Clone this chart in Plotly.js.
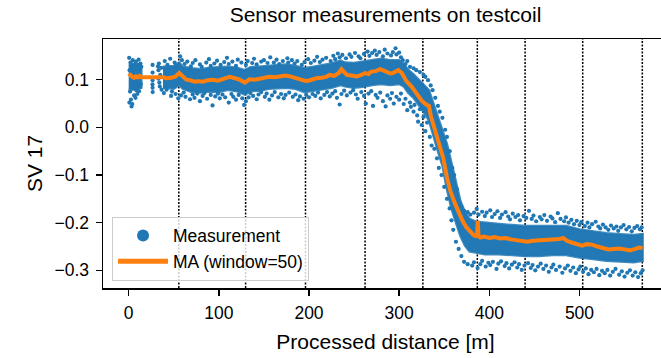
<!DOCTYPE html>
<html>
<head>
<meta charset="utf-8">
<script src="https://cdn.plot.ly/plotly-3.0.1.min.js"></script>
<style>
html,body{margin:0;padding:0;overflow:hidden;background:#fff;}
#chart{width:672px;height:358px;}
</style>
</head>
<body>
<div id="chart"></div>
<script>
// ---- Data ----
// Segment boundaries (processed distance, m)
const boundaries = [55.6, 129.7, 196.1, 262.2, 326.3, 386.7, 439.7, 503.6, 569.7];

// Moving average (window=50)
const maX = [0,2,4,6,8,10,12,14,38,42,47,52,56,60,64,68,73,78,82,88,93,99,104,108,112,118,123,129,134,140,145,151,156,162,168,174,179,185,190,197,203,208,214,219,223,228,233,236,239,242,247,253,258,262,266,269,274,279,283,286,290,293,296,299,303,308,314,319,325,330,333,335,338,341,345,349,353,357,362,366,370,374,378,382,385,386.5,387.2,388,390,394,400,406,412,418,424,430,436,442,448,454,460,466,472,478,482,486,492,498,503,508,514,520,526,532,538,544,550,556,562,566,570];
const maY = [0.107,0.110,0.106,0.104,0.107,0.105,0.108,0.105,0.105,0.103,0.104,0.107,0.114,0.107,0.100,0.099,0.096,0.097,0.096,0.099,0.100,0.098,0.101,0.104,0.106,0.103,0.100,0.094,0.101,0.100,0.102,0.104,0.106,0.105,0.108,0.109,0.107,0.104,0.100,0.097,0.100,0.103,0.104,0.106,0.110,0.108,0.114,0.122,0.116,0.110,0.109,0.107,0.110,0.114,0.112,0.117,0.118,0.122,0.119,0.116,0.113,0.114,0.118,0.120,0.114,0.097,0.085,0.072,0.056,0.048,0.045,0.025,0.005,-0.018,-0.040,-0.065,-0.105,-0.135,-0.160,-0.180,-0.195,-0.208,-0.218,-0.225,-0.228,-0.226,-0.196,-0.228,-0.231,-0.229,-0.232,-0.230,-0.233,-0.232,-0.235,-0.236,-0.237,-0.240,-0.238,-0.237,-0.238,-0.236,-0.236,-0.234,-0.232,-0.238,-0.242,-0.245,-0.248,-0.245,-0.246,-0.250,-0.253,-0.256,-0.255,-0.254,-0.256,-0.258,-0.255,-0.252,-0.253];

// Dense core of the measurement cloud (upper / lower envelope)
const coreAX = [0, 4, 8, 14];
const coreAUp = [0.131, 0.133, 0.132, 0.129];
const coreALo = [0.081, 0.079, 0.081, 0.083];
const coreBX = [38,50,56,60,70,80,90,100,110,120,129,135,145,155,165,175,185,195,205,215,225,235,240,250,260,270,280,290,300,305,310,316,322,328,333,338,343,348,353,358,363,368,373,378,385,395,410,425,440,455,470,485,500,515,530,545,560,570];
const coreBUp = [0.127,0.129,0.136,0.127,0.124,0.122,0.125,0.126,0.127,0.125,0.120,0.126,0.127,0.129,0.131,0.132,0.129,0.124,0.127,0.130,0.134,0.140,0.136,0.135,0.138,0.141,0.144,0.141,0.141,0.133,0.121,0.111,0.100,0.088,0.078,0.050,0.020,-0.010,-0.035,-0.075,-0.115,-0.155,-0.178,-0.192,-0.198,-0.200,-0.202,-0.205,-0.207,-0.207,-0.207,-0.207,-0.214,-0.218,-0.222,-0.224,-0.226,-0.224];
const coreBLo = [0.083,0.081,0.089,0.081,0.074,0.073,0.075,0.074,0.079,0.076,0.069,0.076,0.077,0.081,0.082,0.083,0.081,0.074,0.076,0.080,0.083,0.089,0.086,0.083,0.085,0.089,0.091,0.089,0.091,0.086,0.073,0.062,0.045,0.030,0.015,-0.020,-0.050,-0.080,-0.130,-0.170,-0.200,-0.228,-0.248,-0.260,-0.263,-0.266,-0.266,-0.268,-0.270,-0.270,-0.268,-0.268,-0.273,-0.276,-0.280,-0.281,-0.283,-0.280];

// Individual scattered measurements around the core, [distance, value]
const measStart = [[0.5,0.146],[1,0.120],[1.5,0.075],[2,0.136],[2.5,0.058],[3,0.090],[3.5,0.128],[4,0.049],[4.5,0.141],[5,0.083],[5.5,0.118],[6,0.067],[6.5,0.132],[7,0.095],[7.5,0.062],[8,0.138],[8.5,0.078],[9,0.125],[9.5,0.070],[10,0.131],[10.5,0.087],[11,0.142],[11.5,0.076],[12,0.120],[12.5,0.085],[13,0.134],[13.5,0.091],[14,0.127],[0.8,0.052],[3.2,0.044],
[26.5,0.131],[26.5,0.115],[26.5,0.099],[26.5,0.083],[26.6,0.074],[26.4,0.090],[32.5,0.128],[33,0.120],[33.5,0.134],[34,0.094],[34.5,0.086],[33,0.102],[35,0.110],[36,0.125],[36.5,0.079]];
const measUpperLeft = [[40,0.139],[43,0.131],[46,0.144],[51,0.136],[53,0.129],[57,0.149],[59,0.141],[62,0.133],[65,0.138],[69,0.128],[71,0.135],[74,0.141],[79,0.132],[81,0.127],[86,0.136],[89,0.143],[91,0.129],[95,0.134],[98,0.140],[102,0.131],[106,0.137],[109,0.146],[111,0.133],[115,0.138],[119,0.129],[121,0.142],[125,0.136],[130,0.131],[132,0.139],[137,0.135],[139,0.144],[142,0.132],[147,0.138],[150,0.141],[154,0.135],[157,0.147],[161,0.136],[164,0.142],[167,0.133],[171,0.139],[176,0.145],[177,0.136],[181,0.141],[184,0.134],[187,0.139],[192,0.131],[195,0.137],[199,0.143],[202,0.135],[206,0.140],[209,0.148],[212,0.137],[215,0.142],[219,0.146],[224,0.139],[227,0.150],[229,0.143],[232,0.155],[234,0.147],[237,0.152],[241,0.145],[245,0.153],[247,0.148],[251,0.156],[255,0.149],[257,0.145],[261,0.154],[265,0.159],[267,0.150],[270,0.156],[273,0.161],[275,0.152],[278,0.158],[282,0.149],[284,0.163],[287,0.155],[291,0.151],[293,0.158],[296,0.166],[297,0.153],[300,0.157],[302,0.147],[304,0.141],[307,0.133],[309,0.139],[312,0.127],[316,0.124],[319,0.120],[323,0.116],[327,0.110],[329,0.106],[332,0.099],[335,0.088],[337,0.078],[340,0.062],[343,0.045],[345,0.033],[348,0.020],[351,-0.005],[353,-0.020],[356,-0.050],[359,-0.085],[361,-0.100],[364,-0.130],[367,-0.160],[369,-0.168],[372,-0.175],[376,-0.178],[379,-0.183],[383,-0.179]];
const measLowerLeft = [[39,0.072],[42,0.079],[47,0.066],[48,0.075],[52,0.070],[55,0.061],[58,0.067],[61,0.073],[63,0.064],[68,0.059],[71,0.069],[73,0.062],[76,0.071],[79,0.055],[82,0.066],[84,0.072],[87,0.060],[91,0.068],[93,0.046],[96,0.065],[99,0.071],[101,0.061],[104,0.069],[107,0.063],[111,0.052],[114,0.070],[116,0.064],[119,0.058],[122,0.068],[126,0.061],[128,0.047],[130,0.055],[133,0.063],[135,0.072],[138,0.066],[142,0.059],[144,0.069],[147,0.074],[151,0.064],[153,0.071],[156,0.058],[159,0.067],[162,0.074],[166,0.063],[169,0.070],[172,0.061],[174,0.068],[178,0.073],[182,0.064],[185,0.069],[188,0.057],[190,0.065],[194,0.060],[197,0.068],[200,0.063],[204,0.070],[207,0.066],[210,0.073],[213,0.061],[217,0.068],[220,0.074],[223,0.065],[226,0.071],[229,0.076],[231,0.062],[234,0.048],[236,0.070],[239,0.077],[242,0.067],[246,0.073],[249,0.078],[252,0.069],[254,0.060],[258,0.074],[261,0.066],[263,0.050],[266,0.071],[269,0.076],[271,0.045],[274,0.068],[276,0.062],[279,0.073],[282,0.055],[285,0.044],[287,0.067],[290,0.060],[292,0.072],[294,0.050],[297,0.064],[300,0.058],[302,0.071],[305,0.049],[307,0.060],[309,0.036],[312,0.052],[313,0.043],[316,0.033],[317,0.047],[320,0.025],[321,0.012],[323,0.038],[325,0.005],[327,0.022],[329,-0.008],[331,0.010],[334,-0.020],[336,-0.038],[339,-0.045],[342,-0.065],[344,-0.085],[347,-0.100],[350,-0.125],[353,-0.150],[356,-0.170],[358,-0.195],[360,-0.215],[363,-0.240],[366,-0.255],[369,-0.270],[372,-0.282],[376,-0.287]];
const measUpperRight = [[386,-0.171],[388,-0.183],[392,-0.177],[395,-0.186],[397,-0.179],[401,-0.174],[403,-0.188],[406,-0.182],[409,-0.176],[412,-0.190],[414,-0.183],[418,-0.178],[421,-0.187],[423,-0.193],[426,-0.181],[429,-0.188],[432,-0.184],[434,-0.195],[438,-0.186],[441,-0.190],[444,-0.175],[447,-0.192],[449,-0.185],[452,-0.197],[456,-0.188],[458,-0.193],[461,-0.184],[464,-0.196],[468,-0.187],[470,-0.191],[473,-0.199],[476,-0.180],[479,-0.192],[483,-0.197],[485,-0.189],[488,-0.200],[491,-0.194],[494,-0.203],[497,-0.196],[500,-0.205],[502,-0.199],[506,-0.207],[509,-0.200],[511,-0.210],[514,-0.203],[518,-0.198],[521,-0.208],[523,-0.212],[526,-0.204],[529,-0.210],[532,-0.215],[535,-0.206],[538,-0.212],[541,-0.208],[543,-0.217],[546,-0.210],[549,-0.205],[552,-0.214],[555,-0.209],[558,-0.218],[561,-0.211],[564,-0.207],[567,-0.214],[569,-0.210]];
const measLowerRight = [[381,-0.290],[383,-0.283],[387,-0.295],[390,-0.287],[392,-0.280],[396,-0.292],[399,-0.284],[401,-0.289],[404,-0.282],[408,-0.297],[410,-0.286],[413,-0.281],[417,-0.291],[419,-0.285],[422,-0.296],[425,-0.288],[428,-0.283],[431,-0.294],[433,-0.287],[436,-0.299],[439,-0.290],[443,-0.285],[446,-0.295],[448,-0.289],[451,-0.300],[454,-0.292],[457,-0.286],[460,-0.297],[463,-0.290],[466,-0.303],[469,-0.294],[471,-0.288],[474,-0.299],[478,-0.292],[481,-0.305],[484,-0.296],[487,-0.290],[490,-0.301],[493,-0.294],[496,-0.306],[499,-0.298],[501,-0.292],[504,-0.303],[507,-0.296],[510,-0.308],[513,-0.299],[516,-0.304],[519,-0.297],[522,-0.310],[525,-0.301],[528,-0.306],[531,-0.299],[534,-0.311],[537,-0.303],[540,-0.297],[544,-0.309],[547,-0.302],[550,-0.313],[553,-0.305],[556,-0.300],[559,-0.311],[562,-0.304],[565,-0.314],[568,-0.306],[570,-0.300]];

const xTicks = [0, 100, 200, 300, 400, 500];
const yTicks = [0.1, 0.0, -0.1, -0.2, -0.3];

// ---- Build polygon for the dense core (upper forward, lower reversed; null splits segments)
function poly(xs, up, lo) {
  return { x: xs.concat(xs.slice().reverse()), y: up.concat(lo.slice().reverse()) };
}
const pA = poly(coreAX, coreAUp, coreALo);
const pB = poly(coreBX, coreBUp, coreBLo);
const coreX = pA.x.concat([null], pB.x);
const coreY = pA.y.concat([null], pB.y);

const meas = measStart.concat(measUpperLeft, measLowerLeft, measUpperRight, measLowerRight);
const measX = meas.map(p => p[0]);
const measY = meas.map(p => p[1]);

const BLUE = '#1f77b4';
const ORANGE = '#ff7f0e';
const FONT = 'Liberation Sans, Arial, Helvetica, sans-serif';

const traces = [
  {
    x: coreX, y: coreY, type: 'scatter', mode: 'lines',
    fill: 'toself', fillcolor: 'rgb(35,121,181)',
    line: {color: 'rgba(31,119,180,0.85)', width: 2.5},
    showlegend: false, hoverinfo: 'skip'
  },
  {
    x: measX, y: measY, type: 'scatter', mode: 'markers', name: 'Measurement',
    marker: {size: 4.2, color: BLUE, line: {width: 0}}
  },
  {
    x: maX, y: maY, type: 'scatter', mode: 'lines', name: 'MA (window=50)',
    line: {color: ORANGE, width: 4}
  }
];

const shapes = boundaries.map(b => ({
  type: 'line', xref: 'x', yref: 'paper', x0: b, x1: b, y0: 0, y1: 1,
  layer: 'below', line: {color: '#000', width: 1.5, dash: '2px,1.5px'}
}));

const layout = {
  width: 672, height: 358,
  margin: {l: 103, r: 4.4, t: 39.3, b: 69.7},
  paper_bgcolor: '#fff', plot_bgcolor: '#fff',
  font: {family: FONT, color: '#000', size: 17.5},
  title: {
    text: 'Sensor measurements on testcoil',
    font: {family: FONT, size: 21, color: '#000'},
    xref: 'paper', x: 0.5, xanchor: 'center',
    yref: 'container', y: 1 - 15 / 358, yanchor: 'middle'
  },
  xaxis: {
    range: [-28.5, 598.2], tickvals: xTicks, ticktext: xTicks.map(String),
    showgrid: false, zeroline: false,
    showline: true, linecolor: '#000', linewidth: 1.5, mirror: true,
    ticks: 'outside', ticklen: 6, tickwidth: 1.4, tickcolor: '#000',
    ticklabelstandoff: 2,
    tickfont: {family: FONT, size: 17.5, color: '#000'},
    title: {text: 'Processed distance [m]', font: {family: FONT, size: 21, color: '#000'}, standoff: 13}
  },
  yaxis: {
    range: [-0.337, 0.1854], tickvals: yTicks, ticktext: yTicks.map(v => (v < 0 ? '\u2212' : '') + Math.abs(v).toFixed(1)),
    showgrid: false, zeroline: false,
    showline: true, linecolor: '#000', linewidth: 1.5, mirror: true,
    ticks: 'outside', ticklen: 6, tickwidth: 1.4, tickcolor: '#000',
    ticklabelstandoff: 3,
    tickfont: {family: FONT, size: 17.5, color: '#000'},
    title: {text: 'SV 17', font: {family: FONT, size: 21, color: '#000'}, standoff: 6}
  },
  shapes: shapes,
  showlegend: true,
  legend: {
    x: 0.016, xanchor: 'left', y: 0.03, yanchor: 'bottom',
    bgcolor: 'rgba(255,255,255,0.8)', bordercolor: '#cccccc', borderwidth: 1,
    font: {family: FONT, size: 17.5, color: '#000'},
    itemsizing: 'constant', itemwidth: 50
  }
};

Plotly.newPlot('chart', traces, layout, {displayModeBar: false, staticPlot: true});
</script>
</body>
</html>
